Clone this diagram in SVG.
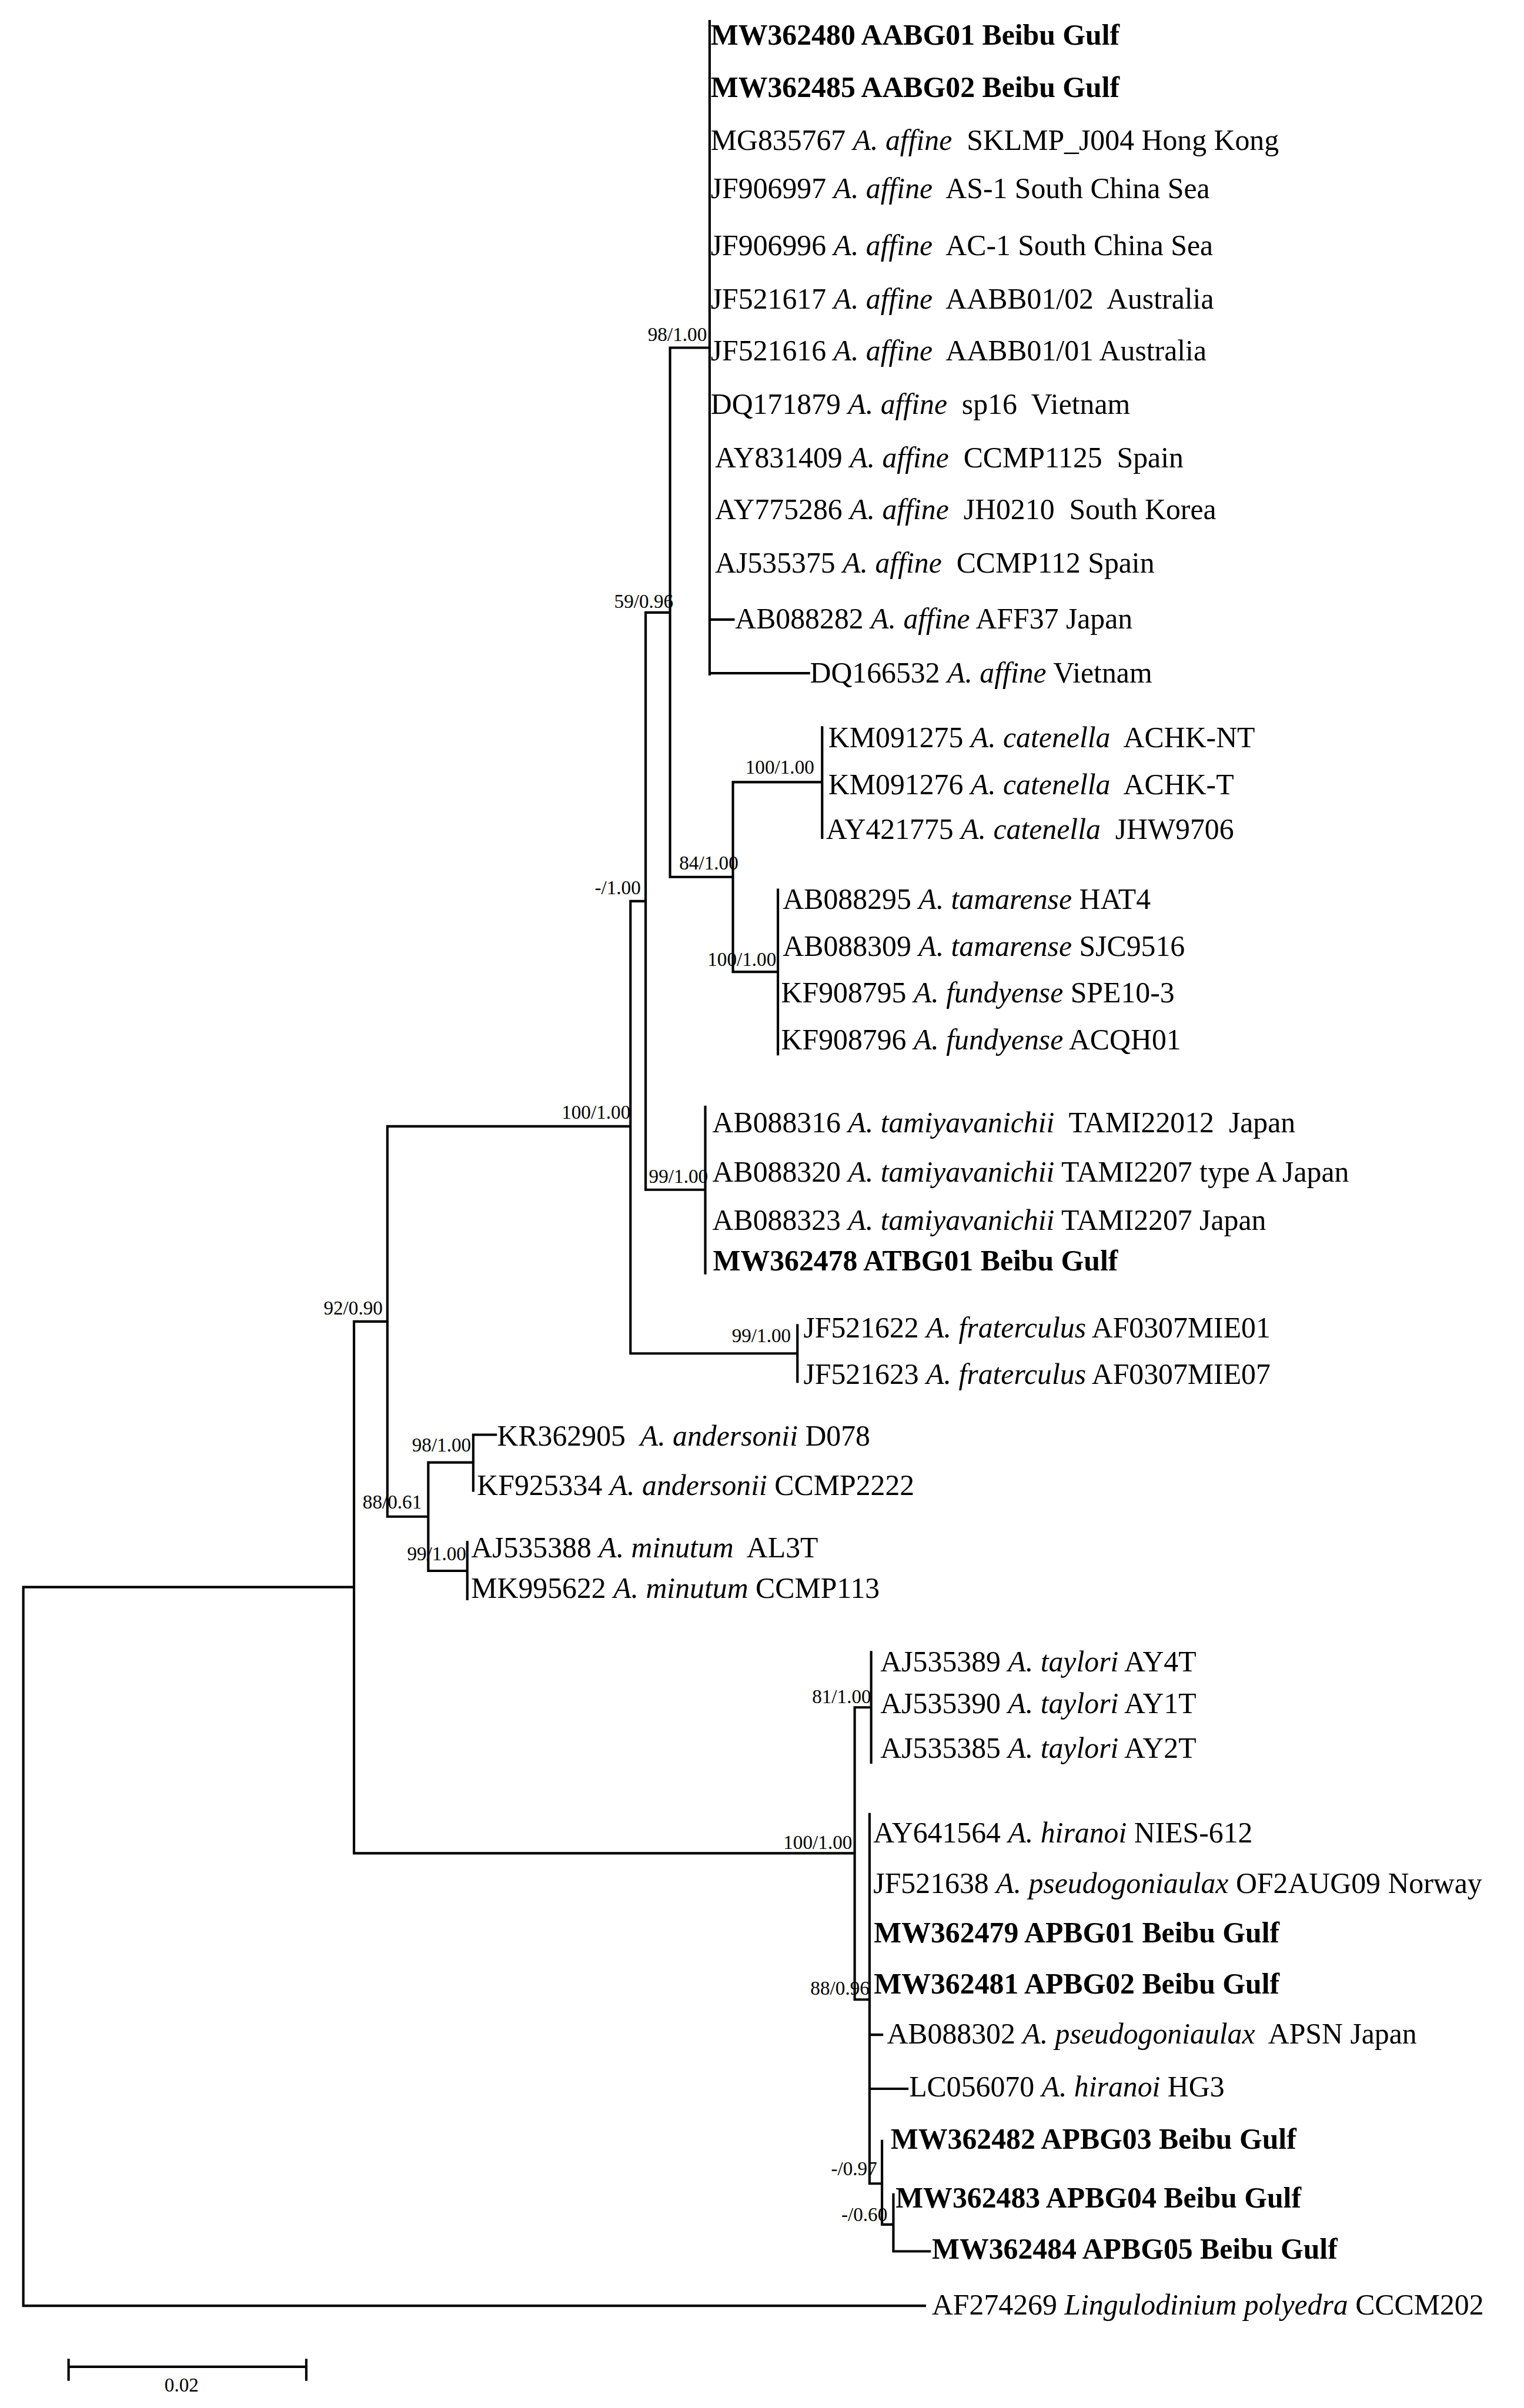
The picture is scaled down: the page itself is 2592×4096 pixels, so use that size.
<svg xmlns="http://www.w3.org/2000/svg" width="2592" height="4096" viewBox="0 0 2592 4096">
<style>
text{font-family:"Liberation Serif","Times New Roman",serif;fill:#000;white-space:pre}
.lf{font-size:54px}
.b{font-weight:bold}
.i{font-style:italic}
.sv{font-size:36px;text-anchor:end}
.sc{font-size:36px;text-anchor:middle}
.ln{fill:none;stroke:#000;stroke-width:4.5;stroke-linecap:square}
</style>
<rect x="0" y="0" width="2592" height="4096" fill="#fff"/>
<g transform="scale(0.922)">
<g id="connectors" class="ln">
<path d="M43 2928V4254M43 2928H653M43 4254H1706
M653 2438V3419M653 2438H714.6M653 3419H1576.6
M714.6 2078V2798M714.6 2078H1163M714.6 2798H790
M1163 1662.5V2497M1163 1662.5H1191M1163 2497H1471
M1191 1130V2195M1191 1130H1236M1191 2195H1301
M1236 641.5V1618M1236 641.5H1309M1236 1618H1352
M1309 39V1244M1309 1143H1353M1309 1242H1492
M1352 1443V1793M1352 1443H1516.6M1352 1793H1435
M1516.6 1342V1545.5M1435 1641.5V1945M1301 2042V2349M1471 2445V2549
M790 2698V2898M790 2698H873M790 2898H862
M873 2647V2750M873 2647H914.5M862 2845V2950
M1576.6 3150V3689M1576.6 3150H1607M1576.6 3689H1604
M1607 3048V3251.5
M1604 3347V4028.5M1604 3754H1627M1604 3853.6H1673.6M1604 4028.5H1627
M1627 3950V4104M1627 4104H1648M1648 4048.6V4153.5M1648 4153.5H1715"/>
</g>
<g id="scale-bar">
<path class="ln" d="M126.5 4366.5H565M126.5 4354V4390M565 4354V4390"/>
<text class="sc" x="335" y="4412">0.02</text>
</g>
<g id="support-values">
<g id="n-affine"><text class="sv" x="1304" y="629">98/1.00</text></g>
<g id="n-affine-cat"><text class="sv" x="1242" y="1121">59/0.96</text></g>
<g id="n-catenella"><text class="sv" x="1502" y="1427">100/1.00</text></g>
<g id="n-cat-tam"><text class="sv" x="1362" y="1604">84/1.00</text></g>
<g id="n-group1"><text class="sv" x="1182" y="1650">-/1.00</text></g>
<g id="n-tamarense"><text class="sv" x="1432" y="1782">100/1.00</text></g>
<g id="n-group2"><text class="sv" x="1163" y="2064">100/1.00</text></g>
<g id="n-tamiyavanichii"><text class="sv" x="1306" y="2182">99/1.00</text></g>
<g id="n-group3"><text class="sv" x="706" y="2425">92/0.90</text></g>
<g id="n-fraterculus"><text class="sv" x="1459" y="2476">99/1.00</text></g>
<g id="n-andersonii"><text class="sv" x="869" y="2678">98/1.00</text></g>
<g id="n-and-min"><text class="sv" x="778" y="2783">88/0.61</text></g>
<g id="n-minutum"><text class="sv" x="860" y="2878">99/1.00</text></g>
<g id="n-taylori"><text class="sv" x="1607" y="3142">81/1.00</text></g>
<g id="n-tay-hir"><text class="sv" x="1572" y="3411">100/1.00</text></g>
<g id="n-pseudo"><text class="sv" x="1604" y="3680">88/0.96</text></g>
<g id="n-apbg03"><text class="sv" x="1618" y="4013">-/0.97</text></g>
<g id="n-apbg04"><text class="sv" x="1637" y="4098">-/0.60</text></g>
</g>
<g id="leaves">
<g id="MW362480"><text class="lf b" x="1311" y="82.6">MW362480 AABG01 Beibu Gulf</text></g>
<g id="MW362485"><text class="lf b" x="1311" y="178.6">MW362485 AABG02 Beibu Gulf</text></g>
<g id="MG835767"><text class="lf" x="1311" y="276.8">MG835767 <tspan class="i">A. affine</tspan>  SKLMP_J004 Hong Kong</text></g>
<g id="JF906997"><text class="lf" x="1311" y="366">JF906997 <tspan class="i">A. affine</tspan>  AS-1 South China Sea</text></g>
<g id="JF906996"><text class="lf" x="1311" y="471">JF906996 <tspan class="i">A. affine</tspan>  AC-1 South China Sea</text></g>
<g id="JF521617"><text class="lf" x="1311" y="569">JF521617 <tspan class="i">A. affine</tspan>  AABB01/02  Australia</text></g>
<g id="JF521616"><text class="lf" x="1311" y="665">JF521616 <tspan class="i">A. affine</tspan>  AABB01/01 Australia</text></g>
<g id="DQ171879"><text class="lf" x="1311" y="764">DQ171879 <tspan class="i">A. affine</tspan>  sp16  Vietnam</text></g>
<g id="AY831409"><text class="lf" x="1319" y="862">AY831409 <tspan class="i">A. affine</tspan>  CCMP1125  Spain</text></g>
<g id="AY775286"><text class="lf" x="1319" y="958">AY775286 <tspan class="i">A. affine</tspan>  JH0210  South Korea</text></g>
<g id="AJ535375"><text class="lf" x="1319" y="1056">AJ535375 <tspan class="i">A. affine</tspan>  CCMP112 Spain</text></g>
<g id="AB088282"><text class="lf" x="1356" y="1159">AB088282 <tspan class="i">A. affine</tspan> AFF37 Japan</text></g>
<g id="DQ166532"><text class="lf" x="1494" y="1259">DQ166532 <tspan class="i">A. affine</tspan> Vietnam</text></g>
<g id="KM091275"><text class="lf" x="1528" y="1378">KM091275 <tspan class="i">A. catenella</tspan>  ACHK-NT</text></g>
<g id="KM091276"><text class="lf" x="1528" y="1465">KM091276 <tspan class="i">A. catenella</tspan>  ACHK-T</text></g>
<g id="AY421775"><text class="lf" x="1524" y="1548">AY421775 <tspan class="i">A. catenella</tspan>  JHW9706</text></g>
<g id="AB088295"><text class="lf" x="1444" y="1677">AB088295 <tspan class="i">A. tamarense</tspan> HAT4</text></g>
<g id="AB088309"><text class="lf" x="1444" y="1764">AB088309 <tspan class="i">A. tamarense</tspan> SJC9516</text></g>
<g id="KF908795"><text class="lf" x="1441" y="1849">KF908795 <tspan class="i">A. fundyense</tspan> SPE10-3</text></g>
<g id="KF908796"><text class="lf" x="1441" y="1936">KF908796 <tspan class="i">A. fundyense</tspan> ACQH01</text></g>
<g id="AB088316"><text class="lf" x="1314" y="2089">AB088316 <tspan class="i">A. tamiyavanichii</tspan>  TAMI22012  Japan</text></g>
<g id="AB088320"><text class="lf" x="1314" y="2180">AB088320 <tspan class="i">A. tamiyavanichii</tspan> TAMI2207 type A Japan</text></g>
<g id="AB088323"><text class="lf" x="1314" y="2269">AB088323 <tspan class="i">A. tamiyavanichii</tspan> TAMI2207 Japan</text></g>
<g id="MW362478"><text class="lf b" x="1315" y="2344">MW362478 ATBG01 Beibu Gulf</text></g>
<g id="JF521622"><text class="lf" x="1482" y="2468">JF521622 <tspan class="i">A. fraterculus</tspan> AF0307MIE01</text></g>
<g id="JF521623"><text class="lf" x="1482" y="2553">JF521623 <tspan class="i">A. fraterculus</tspan> AF0307MIE07</text></g>
<g id="KR362905"><text class="lf" x="917" y="2667">KR362905  <tspan class="i">A. andersonii</tspan> D078</text></g>
<g id="KF925334"><text class="lf" x="880" y="2758">KF925334 <tspan class="i">A. andersonii</tspan> CCMP2222</text></g>
<g id="AJ535388"><text class="lf" x="869" y="2873">AJ535388 <tspan class="i">A. minutum</tspan>  AL3T</text></g>
<g id="MK995622"><text class="lf" x="869" y="2948">MK995622 <tspan class="i">A. minutum</tspan> CCMP113</text></g>
<g id="AJ535389"><text class="lf" x="1624" y="3084">AJ535389 <tspan class="i">A. taylori</tspan> AY4T</text></g>
<g id="AJ535390"><text class="lf" x="1624" y="3160">AJ535390 <tspan class="i">A. taylori</tspan> AY1T</text></g>
<g id="AJ535385"><text class="lf" x="1624" y="3243">AJ535385 <tspan class="i">A. taylori</tspan> AY2T</text></g>
<g id="AY641564"><text class="lf" x="1611" y="3399">AY641564 <tspan class="i">A. hiranoi</tspan> NIES-612</text></g>
<g id="JF521638"><text class="lf" x="1611" y="3492">JF521638 <tspan class="i">A. pseudogoniaulax</tspan> OF2AUG09 Norway</text></g>
<g id="MW362479"><text class="lf b" x="1612" y="3583">MW362479 APBG01 Beibu Gulf</text></g>
<g id="MW362481"><text class="lf b" x="1612" y="3678">MW362481 APBG02 Beibu Gulf</text></g>
<g id="AB088302"><text class="lf" x="1636" y="3770">AB088302 <tspan class="i">A. pseudogoniaulax</tspan>  APSN Japan</text></g>
<g id="LC056070"><text class="lf" x="1677" y="3868">LC056070 <tspan class="i">A. hiranoi</tspan> HG3</text></g>
<g id="MW362482"><text class="lf b" x="1643" y="3964">MW362482 APBG03 Beibu Gulf</text></g>
<g id="MW362483"><text class="lf b" x="1652" y="4073">MW362483 APBG04 Beibu Gulf</text></g>
<g id="MW362484"><text class="lf b" x="1719" y="4167">MW362484 APBG05 Beibu Gulf</text></g>
<g id="AF274269"><text class="lf" x="1719" y="4270">AF274269 <tspan class="i">Lingulodinium polyedra</tspan> CCCM202</text></g>
</g>
</g>
</svg>
